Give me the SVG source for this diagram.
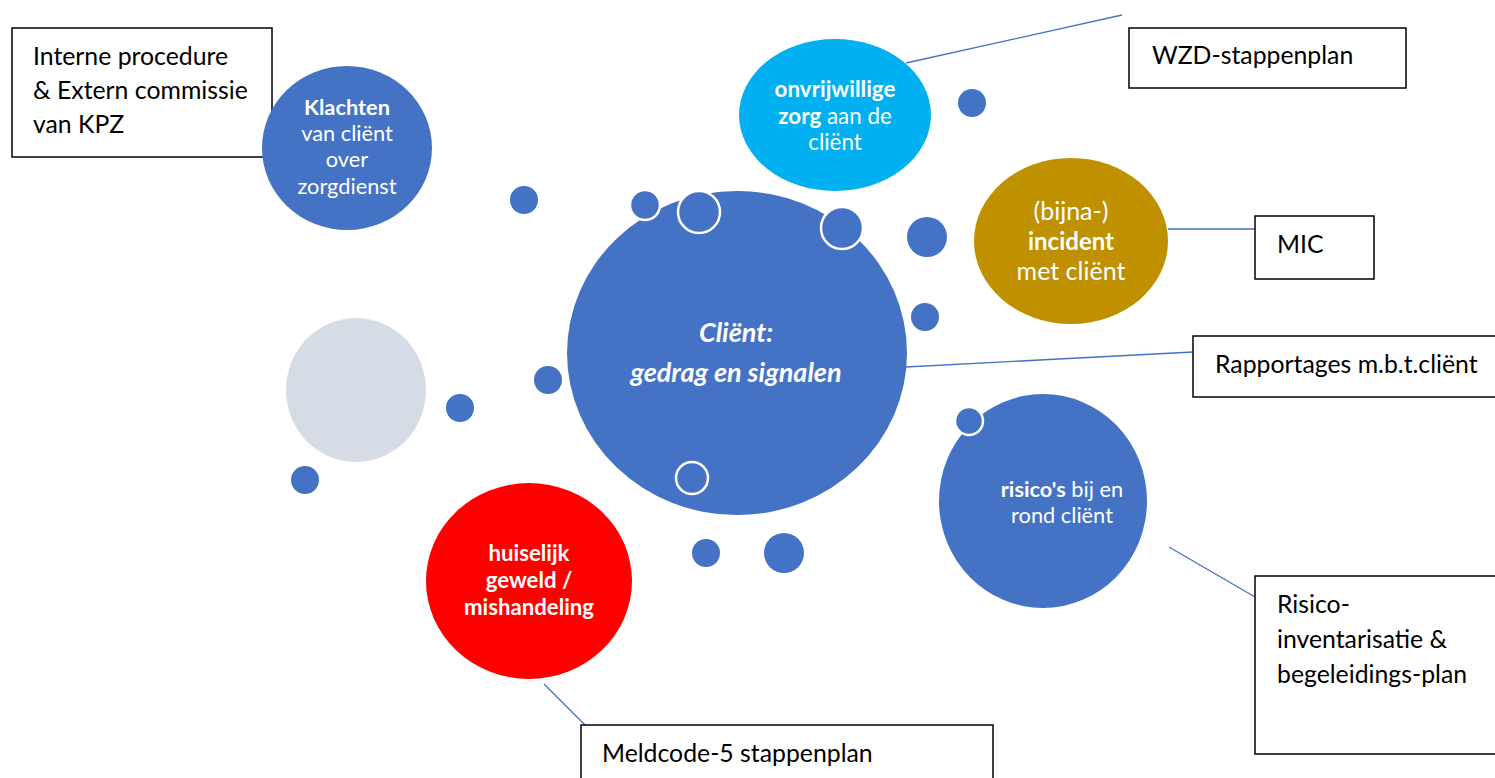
<svg xmlns="http://www.w3.org/2000/svg" width="1495" height="778" viewBox="0 0 1495 778">
<style>
.box{fill:#fff;stroke:#000;stroke-width:1.5}
.conn{stroke:#4472C4;stroke-width:1.3;fill:none}
.blue{fill:#4472C4}
.ring{fill:#4472C4;stroke:#fff;stroke-width:2.5}
.bt{font-family:Lato,"Liberation Sans",sans-serif;font-size:24.8px;fill:#000}
.wt{font-family:Lato,"Liberation Sans",sans-serif;font-size:21.8px;fill:#fff;text-anchor:middle}
.b{font-weight:bold}
</style>
<rect width="1495" height="778" fill="#fff"/>
<g id="connectors">
<line class="conn" x1="906" y1="63" x2="1122" y2="15"/>
<line class="conn" x1="1168" y1="229" x2="1255" y2="229"/>
<line class="conn" x1="906" y1="367" x2="1193" y2="352"/>
<line class="conn" x1="1169" y1="547" x2="1255" y2="597"/>
<line class="conn" x1="544" y1="684" x2="585" y2="725"/>
</g>
<g id="box-interne">
<rect class="box" x="12" y="28" width="260" height="129"/>
<text class="bt" x="33" y="65">Interne procedure</text>
<text class="bt" x="33" y="99">&amp; Extern commissie</text>
<text class="bt" x="33" y="133">van KPZ</text>
</g>
<g id="node-klachten">
<ellipse class="blue" cx="347" cy="148" rx="85" ry="82"/>
<text class="wt" x="347" y="115"><tspan class="b">Klachten</tspan></text>
<text class="wt" x="347" y="141">van cliënt</text>
<text class="wt" x="347" y="167">over</text>
<text class="wt" x="347" y="194">zorgdienst</text>
</g>
<g id="node-onvrijwillig">
<ellipse cx="835" cy="115" rx="96" ry="76" fill="#00B0F0"/>
<text class="wt" x="835" y="97" style="font-size:22.4px"><tspan class="b">onvrijwillige</tspan></text>
<text class="wt" x="835" y="124" style="font-size:22.4px"><tspan class="b">zorg</tspan> aan de</text>
<text class="wt" x="835" y="150" style="font-size:22.4px">cliënt</text>
</g>
<g id="box-wzd">
<rect class="box" x="1129" y="28" width="277" height="60"/>
<text class="bt" x="1152" y="64">WZD-stappenplan</text>
</g>
<g id="node-incident">
<ellipse cx="1071" cy="241" rx="97" ry="83" fill="#BF9000"/>
<text class="wt" x="1071" y="220" style="font-size:25px">(bijna-)</text>
<text class="wt b" x="1071" y="250" style="font-size:24px">incident</text>
<text class="wt" x="1071" y="280" style="font-size:25px">met cliënt</text>
</g>
<g id="box-mic">
<rect class="box" x="1255" y="216" width="119" height="63"/>
<text class="bt" x="1277" y="253">MIC</text>
</g>
<g id="node-client">
<ellipse class="blue" cx="737" cy="353" rx="170" ry="162"/>
<text class="wt b" x="736" y="342" style="font-style:italic;font-size:27px">Cliënt:</text>
<text class="wt b" x="736" y="382" style="font-style:italic;font-size:27px">gedrag en signalen</text>
</g>
<g id="box-rapportages">
<rect class="box" x="1193" y="336" width="310" height="61"/>
<text class="bt" x="1215" y="373">Rapportages m.b.t.cliënt</text>
</g>
<g id="node-risico">
<ellipse class="blue" cx="1043" cy="501" rx="104" ry="107"/>
<text class="wt" x="1062" y="497"><tspan class="b">risico's</tspan> bij en</text>
<text class="wt" x="1062" y="523">rond cliënt</text>
</g>
<g id="box-risico">
<rect class="box" x="1255" y="576" width="250" height="178"/>
<text class="bt" x="1277" y="613">Risico-</text>
<text class="bt" x="1277" y="648">inventarisatie &amp;</text>
<text class="bt" x="1277" y="683">begeleidings-plan</text>
</g>
<g id="node-huiselijk">
<ellipse cx="529" cy="581" rx="103" ry="98" fill="#FF0000"/>
<text class="wt b" x="529" y="561" style="font-size:22.2px">huiselijk</text>
<text class="wt b" x="529" y="588" style="font-size:22.2px">geweld /</text>
<text class="wt b" x="529" y="615" style="font-size:22.2px">mishandeling</text>
</g>
<g id="box-meldcode">
<rect class="box" x="581" y="725" width="412" height="60"/>
<text class="bt" x="602" y="762">Meldcode-5 stappenplan</text>
</g>
<g id="node-grey">
<ellipse cx="356" cy="390" rx="70" ry="72" fill="#D6DCE5"/>
</g>
<g id="dots">
<circle class="blue" cx="972" cy="103" r="14"/>
<circle class="blue" cx="524" cy="200" r="14"/>
<circle class="ring" cx="645" cy="205" r="15"/>
<circle class="ring" cx="699" cy="212" r="21"/>
<circle class="ring" cx="842" cy="228" r="21"/>
<circle class="blue" cx="927" cy="237" r="20"/>
<circle class="blue" cx="925" cy="317" r="14"/>
<circle class="blue" cx="548" cy="380" r="14"/>
<circle class="blue" cx="460" cy="408" r="14"/>
<circle class="blue" cx="305" cy="480" r="14"/>
<circle class="ring" cx="692" cy="478" r="16"/>
<circle class="blue" cx="706" cy="553" r="14"/>
<circle class="blue" cx="784" cy="553" r="20"/>
<circle class="ring" cx="969" cy="421" r="14"/>
</g>
</svg>
